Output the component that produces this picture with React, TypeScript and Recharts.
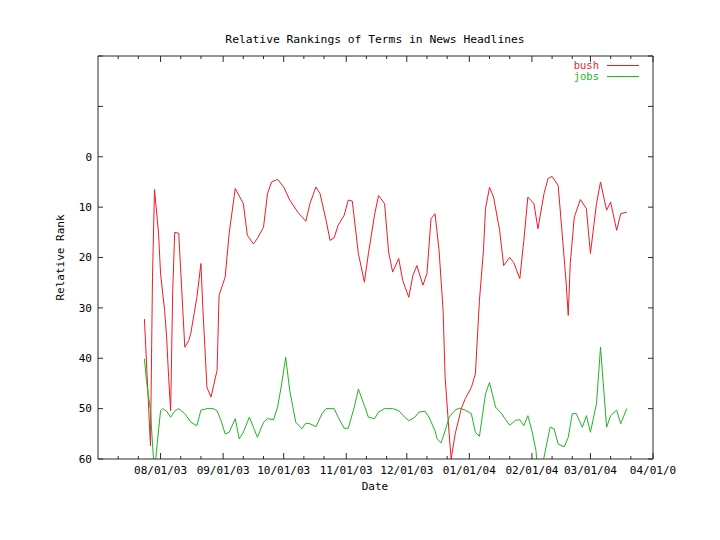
import { LineChart, Line, XAxis, YAxis } from 'recharts';

const bushDates = [
  '2003-07-24', '2003-07-26', '2003-07-27', '2003-07-28', '2003-07-29', '2003-07-31', '2003-08-01', '2003-08-03', '2003-08-04', '2003-08-05',
  '2003-08-06', '2003-08-07', '2003-08-08', '2003-08-10', '2003-08-13', '2003-08-15', '2003-08-16', '2003-08-19', '2003-08-21', '2003-08-22',
  '2003-08-24', '2003-08-26', '2003-08-29', '2003-08-30', '2003-09-02', '2003-09-04', '2003-09-07', '2003-09-11', '2003-09-13', '2003-09-16',
  '2003-09-18', '2003-09-21', '2003-09-23', '2003-09-25', '2003-09-28', '2003-10-01', '2003-10-04', '2003-10-08', '2003-10-12', '2003-10-14',
  '2003-10-17', '2003-10-19', '2003-10-22', '2003-10-24', '2003-10-26', '2003-10-28', '2003-10-31', '2003-11-02', '2003-11-04', '2003-11-07',
  '2003-11-10', '2003-11-12', '2003-11-15', '2003-11-17', '2003-11-20', '2003-11-22', '2003-11-24', '2003-11-27', '2003-11-29', '2003-12-02',
  '2003-12-04', '2003-12-06', '2003-12-09', '2003-12-11', '2003-12-13', '2003-12-15', '2003-12-17', '2003-12-19', '2003-12-20', '2003-12-22',
  '2003-12-23', '2003-12-25', '2003-12-28', '2003-12-30', '2004-01-02', '2004-01-04', '2004-01-06', '2004-01-08', '2004-01-09', '2004-01-11',
  '2004-01-13', '2004-01-16', '2004-01-18', '2004-01-21', '2004-01-23', '2004-01-26', '2004-01-28', '2004-01-30', '2004-02-02', '2004-02-04',
  '2004-02-07', '2004-02-09', '2004-02-11', '2004-02-14', '2004-02-16', '2004-02-18', '2004-02-19', '2004-02-20', '2004-02-22', '2004-02-25',
  '2004-02-28', '2004-03-01', '2004-03-04', '2004-03-06', '2004-03-09', '2004-03-11', '2004-03-14', '2004-03-16', '2004-03-19',
];
const bushRank = [
  32.2, 49, 57.4, 24, 6.5, 15.2, 23.2, 30.5, 35.8, 43.8,
  50.4, 27, 15, 15.2, 37.8, 36.5, 35, 27.9, 21.2, 30.5,
  45.8, 47.7, 42.4, 27.5, 23.9, 15.2, 6.3, 9.3, 15.6, 17.3,
  16.2, 14, 7.3, 5, 4.5, 6, 8.6, 11, 12.8, 9.3,
  6, 7.3, 12.6, 16.6, 16.1, 13.6, 11.6, 8.6, 8.8, 19.2,
  24.9, 19.2, 11.6, 7.7, 9.3, 18.9, 22.9, 20.2, 24.6, 27.9,
  23.6, 21.6, 25.5, 23.2, 12.3, 11.3, 18.6, 30.5, 43.8, 55,
  60, 55, 50, 48, 45.8, 43.1, 28.5, 18.6, 10.3, 6.1,
  8, 14.6, 21.6, 20, 21, 24.2, 16.6, 8, 9.3, 14.3,
  7.3, 4.3, 3.9, 5.7, 15.3, 25.2, 31.5, 21.2, 12, 8.5,
  10.3, 19.2, 9.3, 5, 10.6, 9, 14.6, 11.3, 11,
];

const jobsDates = [
  '2003-07-24', '2003-07-25', '2003-07-27', '2003-07-28', '2003-07-29', '2003-07-30', '2003-08-01', '2003-08-02', '2003-08-04', '2003-08-06',
  '2003-08-08', '2003-08-10', '2003-08-13', '2003-08-16', '2003-08-19', '2003-08-21', '2003-08-24', '2003-08-27', '2003-08-29', '2003-08-31',
  '2003-09-02', '2003-09-04', '2003-09-07', '2003-09-09', '2003-09-11', '2003-09-14', '2003-09-16', '2003-09-18', '2003-09-21', '2003-09-23',
  '2003-09-26', '2003-09-28', '2003-09-30', '2003-10-02', '2003-10-04', '2003-10-07', '2003-10-10', '2003-10-12', '2003-10-14', '2003-10-17',
  '2003-10-20', '2003-10-22', '2003-10-26', '2003-10-28', '2003-10-31', '2003-11-02', '2003-11-05', '2003-11-07', '2003-11-10', '2003-11-12',
  '2003-11-15', '2003-11-17', '2003-11-20', '2003-11-24', '2003-11-27', '2003-11-30', '2003-12-02', '2003-12-05', '2003-12-07', '2003-12-10',
  '2003-12-12', '2003-12-15', '2003-12-16', '2003-12-18', '2003-12-20', '2003-12-22', '2003-12-25', '2003-12-27', '2003-12-30', '2004-01-02',
  '2004-01-04', '2004-01-06', '2004-01-09', '2004-01-11', '2004-01-14', '2004-01-17', '2004-01-19', '2004-01-21', '2004-01-24', '2004-01-26',
  '2004-01-28', '2004-01-30', '2004-02-01', '2004-02-03', '2004-02-04', '2004-02-07', '2004-02-10', '2004-02-12', '2004-02-14', '2004-02-17',
  '2004-02-19', '2004-02-21', '2004-02-23', '2004-02-26', '2004-02-28', '2004-03-01', '2004-03-04', '2004-03-06', '2004-03-09', '2004-03-11',
  '2004-03-14', '2004-03-16', '2004-03-19',
];
const jobsRank = [
  40.1, 44.4, 50.4, 57, 63, 58.3, 50.4, 50, 50.5, 51.7,
  50.5, 50, 51, 52.7, 53.4, 50.3, 50, 50, 50.4, 52.4,
  55, 54.7, 52, 56, 54.7, 51.7, 53.7, 55.7, 52.7, 52,
  52.2, 49.7, 45.1, 39.8, 46.4, 52.7, 54, 52.9, 53, 53.6,
  51, 50, 50, 51.7, 53.9, 53.9, 49.7, 46.1, 49.4, 51.7,
  52, 50.7, 50, 50, 50.4, 51.7, 52.4, 51.7, 50.7, 50.5,
  51.7, 54.4, 56, 56.8, 54.4, 51.7, 50.3, 49.9, 50.3, 51,
  54.7, 55.5, 47.1, 44.8, 49.7, 51, 52.2, 53.3, 52.3, 52.2,
  53.4, 51.4, 54.4, 58.3, 63, 59.7, 53.7, 54, 57, 57.6,
  55.7, 51, 51, 53.7, 51.4, 54.7, 49, 37.8, 53.7, 51.4,
  50.3, 53, 50,
];

const majorTickDates = ['2003-08-01', '2003-09-01', '2003-10-01', '2003-11-01', '2003-12-01', '2004-01-01', '2004-02-01', '2004-03-01', '2004-04-01'];
const majorTickLabels = ['08/01/03', '09/01/03', '10/01/03', '11/01/03', '12/01/03', '01/01/04', '02/01/04', '03/01/04', '04/01/0'];
const minorTickDates = [
  '2003-07-11', '2003-07-21', '2003-08-11', '2003-08-21', '2003-09-11', '2003-09-21', '2003-10-11', '2003-10-21', '2003-11-11',
  '2003-11-21', '2003-12-11', '2003-12-21', '2004-01-11', '2004-01-21', '2004-02-11', '2004-02-21', '2004-03-11', '2004-03-21',
];
const rankTicks = [-20, -10, 0, 10, 20, 30, 40, 50, 60];
const rankTickLabels = ['', '', '0', '10', '20', '30', '40', '50', '60'];

const START = Date.UTC(2003, 6, 1);
const END = '2004-04-01';
const toDay = (s: string) => Math.round((Date.parse(s) - START) / 86400000);

const bushData = bushDates.map((d, i) => ({ t: toDay(d), v: bushRank[i] }));
const jobsData = jobsDates.map((d, i) => ({ t: toDay(d), v: jobsRank[i] }));
const majorDays = majorTickDates.map(toDay);
const xTicks = [...majorDays, ...minorTickDates.map(toDay)].sort((a, b) => a - b);

const FONT = '"DejaVu Sans Mono", monospace';
const FRAME = '#2a2a2a';
const RED = '#ee1c24';
const GREEN = '#22b322';

function BottomTick(props: any) {
  const { x, y, payload } = props;
  const i = majorDays.indexOf(payload.value);
  return (
    <g>
      <line x1={x} x2={x} y1={y} y2={y - (i >= 0 ? 6 : 3)} stroke={FRAME} />
      {i >= 0 && (
        <text x={x} y={y + 15} textAnchor="middle" fontSize={11} fontFamily={FONT} fill="#000">
          {majorTickLabels[i]}
        </text>
      )}
    </g>
  );
}

function TopTick(props: any) {
  const { x, y, payload } = props;
  const major = majorDays.includes(payload.value);
  return <line x1={x} x2={x} y1={y} y2={y + (major ? 6 : 3)} stroke={FRAME} />;
}

function LeftTick(props: any) {
  const { x, y, payload } = props;
  const label = rankTickLabels[rankTicks.indexOf(payload.value)];
  return (
    <g>
      <line x1={x} x2={x + 5} y1={y} y2={y} stroke={FRAME} />
      {label && (
        <text x={x - 6} y={y} dy="0.35em" textAnchor="end" fontSize={11} fontFamily={FONT} fill="#000">
          {label}
        </text>
      )}
    </g>
  );
}

function RightTick(props: any) {
  const { x, y } = props;
  return <line x1={x} x2={x - 5} y1={y} y2={y} stroke={FRAME} />;
}

const textStyle = { position: 'absolute' as const, fontFamily: FONT, fontSize: 11, lineHeight: '11px', whiteSpace: 'nowrap' as const };

export default function App() {
  return (
    <div style={{ position: 'relative', width: 704, height: 524, background: '#fff' }}>
      <LineChart width={704} height={524} margin={{ top: 0, right: 0, bottom: 0, left: 0 }}>
        <XAxis xAxisId="b" type="number" dataKey="t" domain={[0, toDay(END)]} ticks={xTicks} interval={0}
          allowDataOverflow height={73} tickSize={0} tickMargin={0} tickLine={false}
          axisLine={{ stroke: FRAME }} tick={<BottomTick />} />
        <XAxis xAxisId="top" orientation="top" type="number" dataKey="t" domain={[0, toDay(END)]} ticks={xTicks} interval={0}
          allowDataOverflow height={48} tickSize={0} tickMargin={0} tickLine={false}
          axisLine={{ stroke: FRAME }} tick={<TopTick />} />
        <YAxis yAxisId="l" type="number" domain={[-20, 60]} reversed ticks={rankTicks} interval={0}
          allowDataOverflow width={90} tickSize={0} tickMargin={0} tickLine={false}
          axisLine={{ stroke: FRAME }} tick={<LeftTick />} />
        <YAxis yAxisId="r" orientation="right" type="number" domain={[-20, 60]} reversed ticks={rankTicks} interval={0}
          allowDataOverflow width={59} tickSize={0} tickMargin={0} tickLine={false}
          axisLine={{ stroke: FRAME }} tick={<RightTick />} />
        <Line xAxisId="b" yAxisId="l" data={bushData} dataKey="v" type="linear" stroke={RED} strokeWidth={1}
          dot={false} isAnimationActive={false} />
        <Line xAxisId="b" yAxisId="l" data={jobsData} dataKey="v" type="linear" stroke={GREEN} strokeWidth={1}
          dot={false} isAnimationActive={false} />
      </LineChart>

      <div style={{ ...textStyle, fontSize: 11.3, left: 167, width: 400, top: 26, textAlign: 'center' }}>
        Relative Rankings of Terms in News Headlines
      </div>
      <div style={{ ...textStyle, left: 267, width: 200, top: 473, textAlign: 'center' }}>Date</div>
      <div style={{ ...textStyle, left: 52 - 100, width: 200, top: 244, textAlign: 'center', transform: 'rotate(-90deg)' }}>
        Relative Rank
      </div>

      <div style={{ ...textStyle, fontSize: 10.5, lineHeight: '10px', left: 491, width: 100, top: 52, textAlign: 'right', color: RED }}>bush</div>
      <div style={{ position: 'absolute', left: 599, width: 32, top: 57, borderTop: `1px solid ${RED}` }} />
      <div style={{ ...textStyle, fontSize: 10.5, lineHeight: '10px', left: 491, width: 100, top: 63, textAlign: 'right', color: GREEN }}>jobs</div>
      <div style={{ position: 'absolute', left: 599, width: 32, top: 68, borderTop: `1px solid ${GREEN}` }} />
    </div>
  );
}
